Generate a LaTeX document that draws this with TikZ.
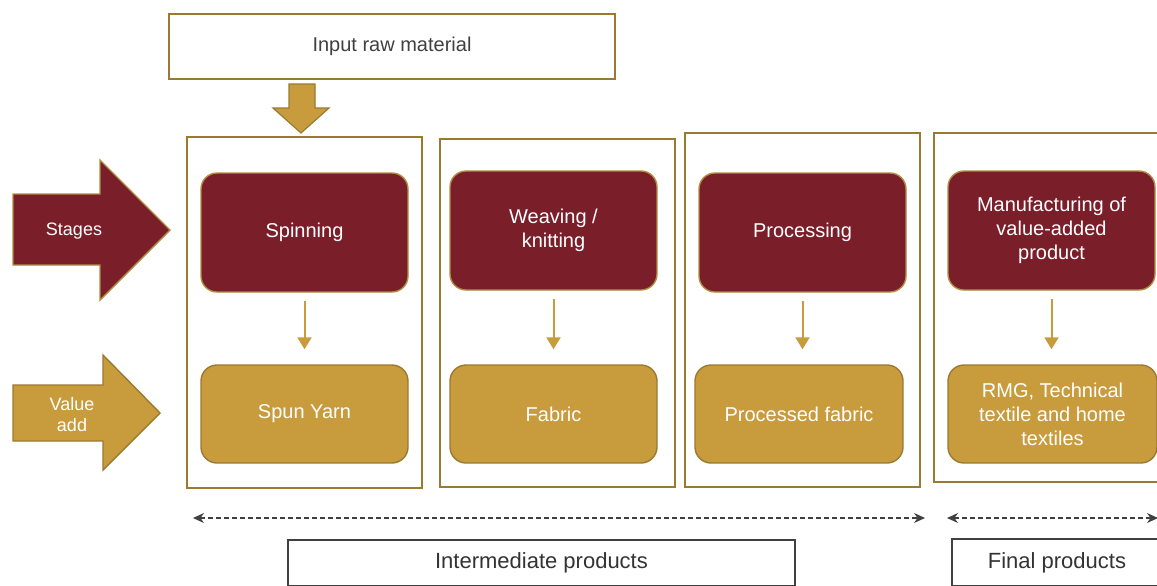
\documentclass[tikz,border=0pt]{standalone}
\usepackage{fontspec}
\setmainfont{Liberation Sans}
\usetikzlibrary{arrows.meta}
\usepackage{xcolor}

\definecolor{maroon}{HTML}{7A1E2A}
\definecolor{gold}{HTML}{C89B3C}
\definecolor{golddark}{HTML}{9A7A30}
\definecolor{goldline}{HTML}{B08D40}
\definecolor{txtgrey}{HTML}{404040}

\begin{document}
\begin{tikzpicture}[
    x=0.5pt, y=-0.5pt,
    every node/.style={font=\fontsize{10}{12}\selectfont, align=center},
    column/.style={rectangle, draw=golddark, line width=1pt, minimum width=117.5pt},
    stagebox/.style={rectangle, rounded corners=8pt, draw=goldline, fill=maroon, text=white, line width=0.7pt, minimum width=103.5pt, minimum height=59.5pt},
    valuebox/.style={rectangle, rounded corners=8pt, draw=golddark, fill=gold, text=white, line width=0.7pt, minimum width=103.5pt, minimum height=49pt},
    flow/.style={draw=gold, line width=1pt, -{Triangle[length=6pt, width=7pt]}, shorten <=4pt, shorten >=7.5pt},
    span/.style={draw=txtgrey, line width=0.6pt, dash pattern=on 2.6pt off 1.4pt, {Stealth[length=5.5pt, width=5pt]}-{Stealth[length=5.5pt, width=5pt]}},
    labelbox/.style={rectangle, draw=txtgrey, line width=1pt, text=txtgrey!80!black, font=\fontsize{11}{13}\selectfont}
]
    \clip (0,0) rectangle (1157,585);

    % Input raw material
    \node[rectangle, draw=golddark, line width=1pt, minimum width=223pt, minimum height=32.5pt, text=txtgrey] (input) at (392,46.5) {Input raw material};
    \filldraw[fill=gold, draw=golddark, line width=0.6pt]
        (289,84) -- (315,84) -- (315,108) -- (329,108) -- (301,133) -- (273,108) -- (289,108) -- cycle;

    % Row arrows
    \filldraw[fill=maroon, draw=goldline, line width=0.7pt]
        (13,194) -- (100,194) -- (100,160) -- (170,230) -- (100,300) -- (100,265) -- (13,265) -- cycle;
    \node[text=white, font=\fontsize{9}{10.5}\selectfont] (stages) at (74,231) {Stages};
    \filldraw[fill=gold, draw=golddark, line width=0.7pt]
        (13,385) -- (103,385) -- (103,355) -- (160,413) -- (103,470) -- (103,441) -- (13,441) -- cycle;
    \node[text=white, font=\fontsize{9}{10.5}\selectfont] (valueadd) at (72,415) {Value\\add};

    % Columns
    \node[column, minimum height=175.5pt] (col1) at (304.5,312.5) {};
    \node[column, minimum height=174pt] (col2) at (557.5,313) {};
    \node[column, minimum height=177pt] (col3) at (802.5,310) {};
    \node[column, minimum height=174.5pt] (col4) at (1051.5,307.5) {};

    % Stages
    \node[stagebox] (spinning) at (304.5,232.5) {Spinning};
    \node[stagebox] (weaving) at (553.5,230.5) {Weaving /\\knitting};
    \node[stagebox] (processing) at (802.5,232.5) {Processing};
    \node[stagebox] (manufacturing) at (1051.5,230.5) {Manufacturing of\\value-added\\product};

    % Value add
    \node[valuebox] (yarn) at (304.5,414) {Spun Yarn};
    \node[valuebox] (fabric) at (553.5,414) {Fabric};
    \node[valuebox, minimum width=104pt] (processed) at (799,414) {Processed fabric};
    \node[valuebox, minimum width=104.5pt] (rmg) at (1052.5,414) {RMG, Technical\\textile and home\\textiles};

    \draw[flow] (spinning.south) -- (spinning.south |- yarn.north);
    \draw[flow] (weaving.south) -- (weaving.south |- fabric.north);
    \draw[flow] (processing.south) -- (processing.south |- processed.north);
    \draw[flow] (manufacturing.south) -- (manufacturing.south |- rmg.north);

    % Product spans
    \coordinate (intL) at (193,518);
    \coordinate (intR) at (925,518);
    \coordinate (finL) at (947,518);
    \coordinate (finR) at (1158,518);
    \draw[span] (intL) -- (intR);
    \draw[span] (finL) -- (finR);

    \node[labelbox, minimum width=253.5pt, minimum height=23pt] (intermediate) at (541.5,563) {Intermediate products};
    \node[labelbox, minimum width=105pt, minimum height=23.5pt] (final) at (1057,562.5) {Final products};

\end{tikzpicture}
\end{document}
